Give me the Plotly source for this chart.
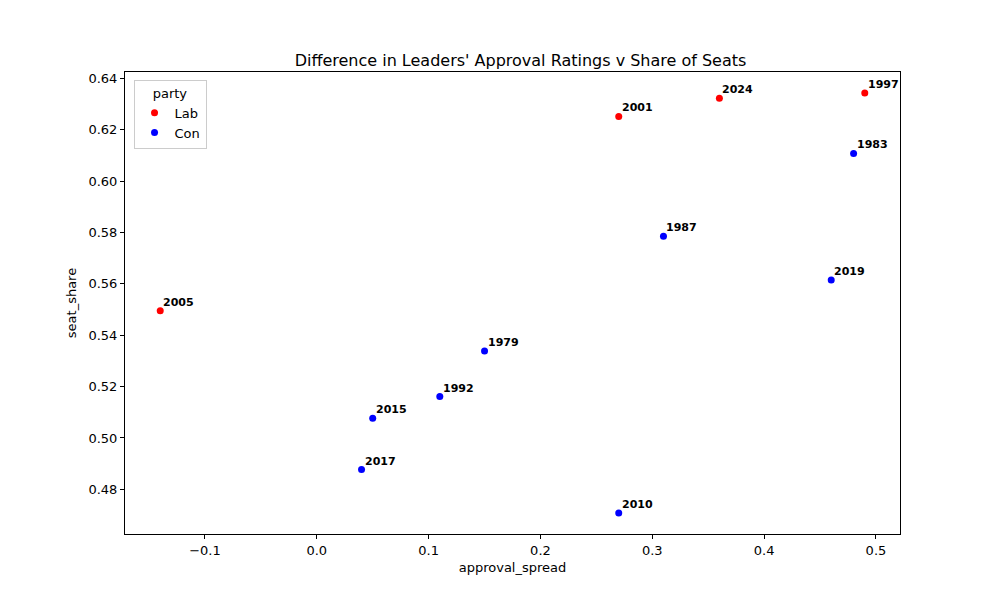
import plotly.graph_objects as go

years = ["1997", "2001", "2024", "2005", "1983", "1987", "2019", "1979", "1992", "2015", "2017", "2010"]
party = ["Lab", "Lab", "Lab", "Lab", "Con", "Con", "Con", "Con", "Con", "Con", "Con", "Con"]
approval_spread = [0.49, 0.27, 0.36, -0.14, 0.48, 0.31, 0.46, 0.15, 0.11, 0.05, 0.04, 0.27]
seat_share = [0.6343, 0.6252, 0.6323, 0.5495, 0.6108, 0.5785, 0.5615, 0.5339, 0.5161, 0.5077, 0.4877, 0.4708]

colors = {"Lab": "red", "Con": "blue"}
FONT = "DejaVu Sans"

fig = go.Figure()
for p in ["Lab", "Con"]:
    xs = [x for x, pp in zip(approval_spread, party) if pp == p]
    ys = [y for y, pp in zip(seat_share, party) if pp == p]
    fig.add_trace(go.Scatter(x=xs, y=ys, mode="markers", name=p,
                             marker=dict(color=colors[p], size=7, line=dict(width=0))))

for x, y, t in zip(approval_spread, seat_share, years):
    fig.add_annotation(x=x, y=y, text=t, showarrow=False, xanchor="left", yanchor="bottom",
                       xshift=1, yshift=0,
                       font=dict(family=FONT, size=11, color="black", weight="bold"))

fig.update_layout(
    width=1000, height=600,
    paper_bgcolor="white", plot_bgcolor="white",
    margin=dict(l=117, r=108, t=64, b=74),
    font=dict(family=FONT, size=13, color="black"),
    title=dict(text="Difference in Leaders' Approval Ratings v Share of Seats",
               x=0.5125, xanchor="center", yref="paper", y=1, yanchor="bottom",
               pad=dict(b=6), font=dict(size=16, family=FONT, color="black")),
    legend=dict(title=dict(text="party", side="top center", font=dict(size=13)),
                x=0.011, y=0.983, xanchor="left", yanchor="top",
                bordercolor="#cccccc", borderwidth=1, bgcolor="white",
                font=dict(size=13), itemwidth=30),
    showlegend=True,
)
fig.update_xaxes(range=[-0.1715, 0.5215], tickvals=[-0.1, 0.0, 0.1, 0.2, 0.3, 0.4, 0.5],
                 tickformat=".1f", showgrid=False, zeroline=False,
                 showline=True, linecolor="black", linewidth=1, mirror=True,
                 ticks="outside", ticklen=4, tickcolor="black",
                 title=dict(text="approval_spread", standoff=6, font=dict(size=13)))
fig.update_yaxes(range=[0.4626, 0.6425], tickvals=[0.48, 0.50, 0.52, 0.54, 0.56, 0.58, 0.60, 0.62, 0.64],
                 tickformat=".2f", showgrid=False, zeroline=False,
                 showline=True, linecolor="black", linewidth=1, mirror=True,
                 ticks="outside", ticklen=4, tickcolor="black",
                 title=dict(text="seat_share", standoff=8, font=dict(size=13)))

fig.write_html("out.html")
